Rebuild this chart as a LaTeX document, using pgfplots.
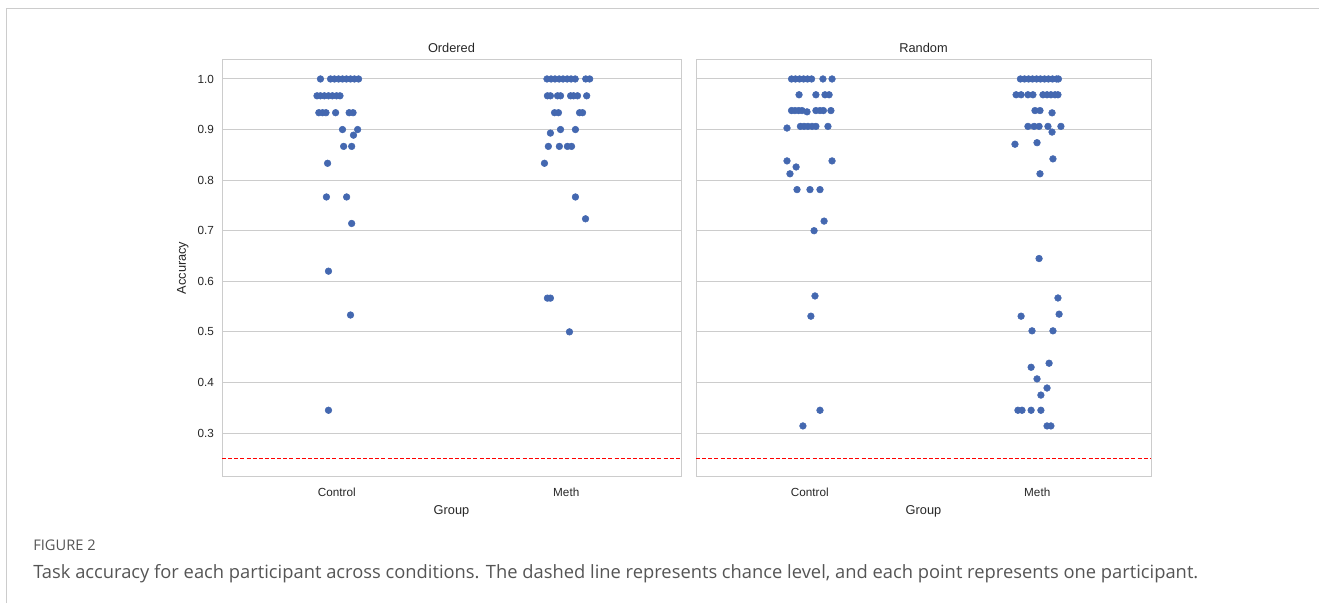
\documentclass[border=0pt]{standalone}
\usepackage{pgfplots}
\pgfplotsset{compat=1.18}
\usepackage{fontspec}
\setmainfont{Liberation Sans}
\newfontfamily\capfont{Open Sans}
\definecolor{dot}{HTML}{4468B0}
\definecolor{gridc}{HTML}{CCCCCC}
\definecolor{txt}{HTML}{262626}
\definecolor{capc}{HTML}{555555}
\pgfplotsset{
  panel/.style={
    scale only axis,
    width=344.25pt, height=312pt,
    xmin=-0.5, xmax=1.5, ymin=0.215, ymax=1.0375,
    xtick={0,1}, xticklabels={Control,Meth},
    ytick={0.3,0.4,0.5,0.6,0.7,0.8,0.9,1.0},
    ymajorgrids, grid style={draw=gridc, line width=0.75pt},
    axis line style={draw=gridc, line width=0.75pt},
    major tick length=0pt,
    tick label style={font=\fontsize{8.8}{10}\selectfont, text=txt},
    yticklabel style={xshift=-2.5pt},
    xticklabel style={yshift=-5.5pt},
    label style={font=\fontsize{9.6}{11}\selectfont, text=txt},
    title style={font=\fontsize{9.6}{11}\selectfont, text=txt, yshift=-3.75pt},
    /pgf/number format/assume math mode=true,
    yticklabel style={/pgf/number format/fixed, /pgf/number format/precision=1, /pgf/number format/fixed zerofill},
    xlabel={Group},
    clip=false,
  },
  dots/.style={only marks, mark=*, mark size=2.5pt, color=dot, mark options={fill=dot, draw=dot}},
  chance/.style={red, dash pattern=on 3pt off 1.6pt, line width=0.75pt},
}
\begin{document}
\begin{tikzpicture}
\path[use as bounding box] (0,0) rectangle (989.25pt,-452.25pt);
\draw[draw=gridc, line width=0.75pt] (4.5pt,-452.25pt) -- (4.5pt,-6pt) -- (989.25pt,-6pt);
% Left panel: Ordered
\begin{axis}[panel, at={(166.5pt,-357pt)}, anchor=south west, title={Ordered}, ylabel={Accuracy}]
\addplot[chance] coordinates {(-0.5,0.25) (1.5,0.25)};
% Control
\addplot[dots] coordinates {
(-0.071,1.0) (-0.027,1.0) (-0.010,1.0) (0.008,1.0) (0.025,1.0) (0.042,1.0) (0.060,1.0) (0.077,1.0) (0.095,1.0)
(-0.086,0.9667) (-0.071,0.9667) (-0.054,0.9667) (-0.036,0.9667) (-0.019,0.9667) (-0.001,0.9667) (0.014,0.9667)
(-0.078,0.9333) (-0.062,0.9333) (-0.047,0.9333) (-0.005,0.9333) (0.054,0.9333) (0.071,0.9333)
(0.025,0.9) (0.091,0.9) (0.073,0.8889)
(0.030,0.8667) (0.065,0.8667)
(-0.040,0.8333)
(-0.045,0.7667) (0.043,0.7667)
(0.065,0.7143)
(-0.036,0.62)
(0.060,0.5333)
(-0.036,0.345)
};
% Meth
\addplot[dots] coordinates {
(0.916,1.0) (0.934,1.0) (0.951,1.0) (0.969,1.0) (0.986,1.0) (1.004,1.0) (1.021,1.0) (1.039,1.0) (1.085,1.0) (1.102,1.0)
(0.918,0.9667) (0.931,0.9667) (0.962,0.9667) (0.975,0.9667) (1.019,0.9667) (1.032,0.9667) (1.049,0.9667) (1.089,0.9667)
(0.949,0.9333) (0.966,0.9333) (1.058,0.9333) (1.071,0.9333)
(0.975,0.9) (1.040,0.9) (0.931,0.893)
(0.922,0.8667) (0.970,0.8667) (1.005,0.8667) (1.023,0.8667)
(0.905,0.8333)
(1.040,0.7667)
(1.084,0.7235)
(0.918,0.5667) (0.931,0.5667)
(1.014,0.5)
};
\end{axis}
% Right panel: Random
\begin{axis}[panel, at={(522pt,-357pt)}, anchor=south west, width=341.25pt, title={Random}, yticklabels={}]
\addplot[chance] coordinates {(-0.5,0.25) (1.5,0.25)};
% Control
\addplot[dots] coordinates {
(-0.080,1.0) (-0.063,1.0) (-0.045,1.0) (-0.027,1.0) (-0.010,1.0) (0.008,1.0) (0.058,1.0) (0.098,1.0)
(-0.047,0.96875) (0.027,0.96875) (0.067,0.96875) (0.085,0.96875)
(-0.080,0.9375) (-0.065,0.9375) (-0.049,0.9375) (-0.034,0.9375) (-0.012,0.935) (0.027,0.9375) (0.045,0.9375) (0.060,0.9375) (0.093,0.9375)
(-0.100,0.903) (-0.041,0.90625) (-0.025,0.90625) (-0.008,0.90625) (0.010,0.90625) (0.027,0.90625) (0.080,0.90625)
(-0.100,0.838) (0.098,0.838)
(-0.060,0.826)
(-0.087,0.8125)
(-0.056,0.78125) (0.001,0.78125) (0.045,0.78125)
(0.063,0.719)
(0.019,0.70)
(0.023,0.571)
(0.005,0.531)
(0.045,0.345)
(-0.030,0.314)
};
% Meth
\addplot[dots] coordinates {
(0.926,1.0) (0.944,1.0) (0.962,1.0) (0.979,1.0) (0.997,1.0) (1.014,1.0) (1.032,1.0) (1.049,1.0) (1.067,1.0) (1.085,1.0) (1.093,1.0)
(0.907,0.96875) (0.929,0.96875) (0.959,0.96875) (0.981,0.96875) (1.025,0.96875) (1.043,0.96875) (1.060,0.96875) (1.078,0.96875) (1.091,0.96875)
(0.990,0.9375) (1.012,0.9375) (1.065,0.933)
(0.959,0.90625) (0.986,0.90625) (1.008,0.90625) (1.047,0.90625) (1.104,0.90625)
(1.065,0.895)
(0.902,0.871) (0.999,0.874)
(1.069,0.842)
(1.012,0.8125)
(1.008,0.645)
(1.091,0.567)
(0.929,0.531) (1.096,0.535)
(0.977,0.502) (1.069,0.502)
(1.052,0.438)
(0.973,0.430)
(0.999,0.407)
(1.043,0.389)
(1.016,0.375)
(0.915,0.345) (0.933,0.345) (0.973,0.345) (1.016,0.345)
(1.043,0.314) (1.060,0.314)
};
\end{axis}
\node[anchor=west, text=capc, font=\capfont\fontsize{11}{13}\selectfont, inner sep=0pt] at (24.75pt,-409pt) {FIGURE 2};
\node[anchor=west, text=capc, font=\capfont\fontsize{13.75}{15}\selectfont, inner sep=0pt] at (24.75pt,-430pt) {Task accuracy for each participant across conditions. The dashed line represents chance level, and each point represents one participant.};
\end{tikzpicture}
\end{document}
